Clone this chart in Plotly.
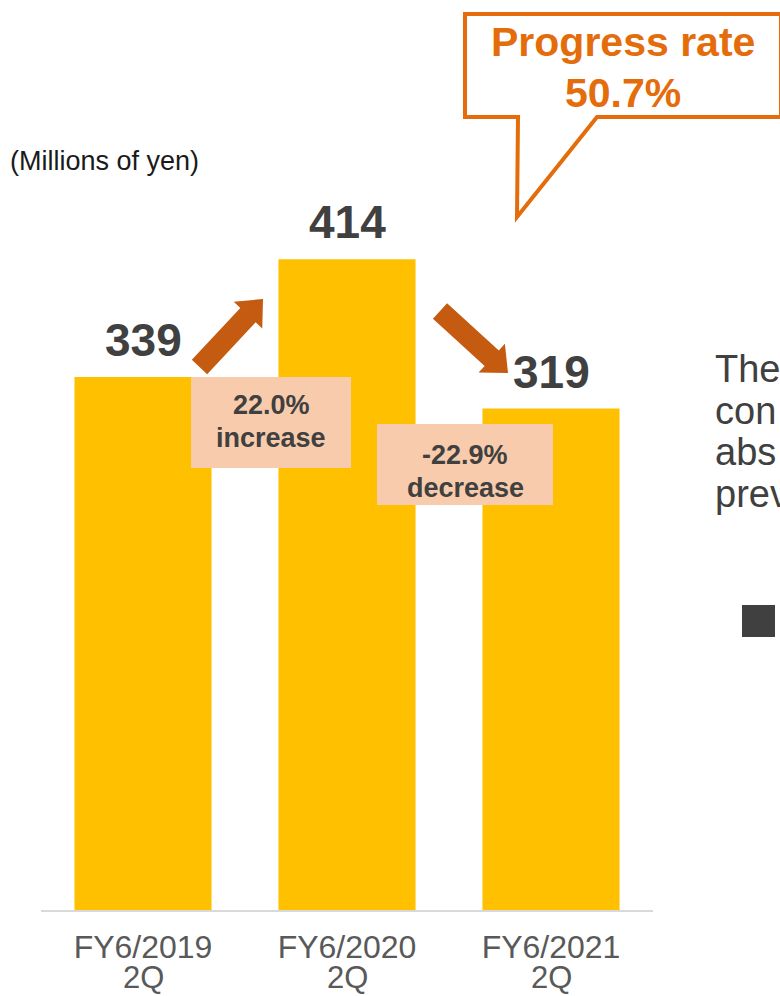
import math
import plotly.graph_objects as go

# ---- data -------------------------------------------------------------
periods = ["FY6/2019", "FY6/2020", "FY6/2021"]
quarters = ["2Q", "2Q", "2Q"]
profit = [339, 414, 319]
change_pct = ["22.0%", "-22.9%"]
change_word = ["increase", "decrease"]
progress_title = "Progress rate"
progress_rate = "50.7%"
unit_label = "(Millions of yen)"
side_lines = ["The", "con", "abs", "prev"]

# ---- canvas geometry ----------------------------------------------------
W, H = 780, 996
L, R, T, B = 41, 127, 124, 86
PW, PH = W - L - R, H - T - B

FONT = "Liberation Sans, Arial, sans-serif"
DARK = "#404040"
ORANGE = "#E46C0A"
ARROW = "#C55A11"
PEACH = "#F8CBAD"


def px(x):
    return (x - L) / PW


def py(y):
    return (H - B - y) / PH


def path(points):
    return "M " + " L ".join(f"{px(a):.5f},{py(b):.5f}" for a, b in points) + " Z"


def block_arrow(tail, tip, shaft=21, head_w=39, head_len=22):
    (x0, y0), (x1, y1) = tail, tip
    dx, dy = x1 - x0, y1 - y0
    n = math.hypot(dx, dy)
    ux, uy = dx / n, dy / n
    nx, ny = -uy, ux
    bx, by = x1 - ux * head_len, y1 - uy * head_len
    s, h = shaft / 2, head_w / 2
    return path([
        (x0 + nx * s, y0 + ny * s),
        (bx + nx * s, by + ny * s),
        (bx + nx * h, by + ny * h),
        (x1, y1),
        (bx - nx * h, by - ny * h),
        (bx - nx * s, by - ny * s),
        (x0 - nx * s, y0 - ny * s),
    ])


fig = go.Figure()
fig.add_trace(go.Bar(
    x=periods, y=profit, width=0.672,
    marker=dict(color="#FFC000", line=dict(width=0)),
    hoverinfo="skip",
))

shapes = []
# change boxes between bars
shapes.append(dict(type="rect", xref="paper", yref="paper",
                   x0=px(191), x1=px(351), y0=py(468), y1=py(377),
                   fillcolor=PEACH, line=dict(width=0)))
shapes.append(dict(type="rect", xref="paper", yref="paper",
                   x0=px(377), x1=px(553), y0=py(505), y1=py(424),
                   fillcolor=PEACH, line=dict(width=0)))
# trend arrows
shapes.append(dict(type="path", xref="paper", yref="paper",
                   path=block_arrow((199.5, 367), (263, 299)),
                   fillcolor=ARROW, line=dict(width=0)))
shapes.append(dict(type="path", xref="paper", yref="paper",
                   path=block_arrow((440, 311), (508, 373)),
                   fillcolor=ARROW, line=dict(width=0)))
# speech bubble
shapes.append(dict(type="path", xref="paper", yref="paper",
                   path=path([(465, 14), (781, 14), (781, 117), (597, 117),
                              (517, 217), (518, 117), (465, 117)]),
                   fillcolor="white", line=dict(color=ORANGE, width=4)))
# bullet square
shapes.append(dict(type="rect", xref="paper", yref="paper",
                   x0=px(742), x1=px(775), y0=py(637), y1=py(605),
                   fillcolor=DARK, line=dict(width=0)))

ann = []
# bar value labels
for p, v in zip(periods, profit):
    ann.append(dict(x=p, y=v, xref="x", yref="y", text=f"<b>{v}</b>",
                    showarrow=False, xanchor="center", yanchor="middle", yshift=37,
                    font=dict(family=FONT, size=46, color=DARK)))
# second line of the category labels
for p, q in zip(periods, quarters):
    ann.append(dict(x=p, y=py(977), xref="x", yref="paper", text=q,
                    showarrow=False, xanchor="center", yanchor="middle",
                    font=dict(family=FONT, size=31, color="#595959")))
# change box texts
for cx, (y1, y2), pct, word in zip([271, 465], [(405, 438), (455, 488)],
                                   change_pct, change_word):
    ann.append(dict(x=px(cx), y=py(y1), xref="paper", yref="paper",
                    text=f"<b>{pct}</b>", showarrow=False,
                    xanchor="center", yanchor="middle",
                    font=dict(family=FONT, size=27, color=DARK)))
    ann.append(dict(x=px(cx), y=py(y2), xref="paper", yref="paper",
                    text=f"<b>{word}</b>", showarrow=False,
                    xanchor="center", yanchor="middle",
                    font=dict(family=FONT, size=27, color=DARK)))
# speech bubble text
ann.append(dict(x=px(623), y=py(42), xref="paper", yref="paper",
                text=f"<b>{progress_title}</b>", showarrow=False,
                xanchor="center", yanchor="middle",
                font=dict(family=FONT, size=41, color=ORANGE)))
ann.append(dict(x=px(623), y=py(93), xref="paper", yref="paper",
                text=f"<b>{progress_rate}</b>", showarrow=False,
                xanchor="center", yanchor="middle",
                font=dict(family=FONT, size=41, color=ORANGE)))
# unit label
ann.append(dict(x=px(8), y=py(161), xref="paper", yref="paper",
                text=unit_label, showarrow=False, xanchor="left", yanchor="middle",
                font=dict(family=FONT, size=27, color="#1A1A1A")))
# commentary text on the right
for i, line in enumerate(side_lines):
    ann.append(dict(x=px(713), y=py(369 + 41.7 * i), xref="paper", yref="paper",
                    text=line, showarrow=False, xanchor="left", yanchor="middle",
                    font=dict(family=FONT, size=38, color=DARK)))

fig.update_layout(
    width=W, height=H,
    margin=dict(l=L, r=R, t=T, b=B, pad=0),
    paper_bgcolor="white", plot_bgcolor="white",
    showlegend=False,
    bargap=0.33,
    shapes=shapes,
    annotations=ann,
    font=dict(family=FONT),
)
fig.update_xaxes(
    type="category", range=[-0.5, 2.5],
    showline=True, linecolor="#D9D9D9", linewidth=2,
    showgrid=False, zeroline=False, ticks="", ticklabelstandoff=8,
    tickfont=dict(family=FONT, size=32, color="#595959"),
)
fig.update_yaxes(visible=False, range=[0, 500], fixedrange=True)

fig.write_html("out.html")
